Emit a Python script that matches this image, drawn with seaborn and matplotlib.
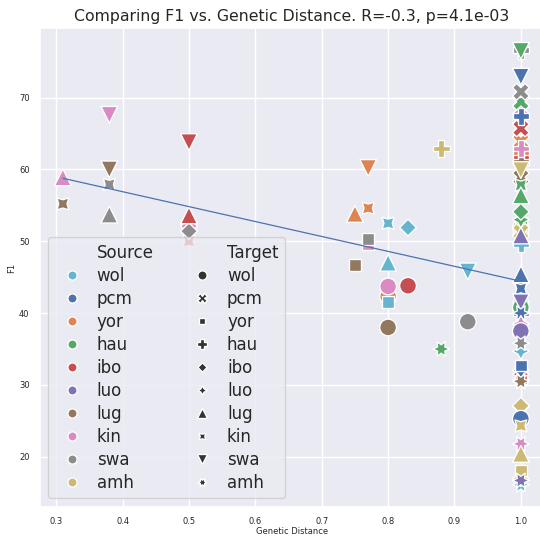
import pandas as pd
import numpy as np
import matplotlib
matplotlib.use("Agg")
import matplotlib.pyplot as plt
import seaborn as sns

sns.set_theme(style="darkgrid")

langs = ["wol", "pcm", "yor", "hau", "ibo", "luo", "lug", "kin", "swa", "amh"]
colors = ["#64B5CD", "#4C72B0", "#DD8452", "#55A868", "#C44E52",
          "#8172B3", "#937860", "#DA8BC3", "#8C8C8C", "#CCB974"]

# points listed bottom layer first (later ones are drawn on top)
source = [
    # x = 1.0, mostly hidden
    "yor", "lug", "yor", "luo", "luo", "luo", "luo", "ibo", "yor", "amh",
    "hau", "swa", "ibo", "ibo", "luo", "hau", "wol", "wol", "amh", "wol",
    "wol", "amh", "hau", "swa", "yor", "yor", "ibo", "lug", "lug", "kin",
    "ibo", "hau",
    # x = 1.0, visible
    "hau", "pcm", "swa", "pcm", "kin", "amh", "hau", "hau", "hau", "luo",
    "pcm", "pcm", "pcm", "luo", "pcm", "kin", "luo", "swa", "pcm", "pcm",
    "lug", "amh", "pcm", "amh", "kin", "amh", "amh", "luo",
    # x < 1.0
    "lug", "kin", "yor",
    "kin", "lug", "kin", "lug", "swa", "swa",
    "ibo", "ibo", "kin", "swa", "ibo",
    "yor", "lug", "yor", "yor", "swa",
    "wol", "wol", "kin", "wol", "lug",
    "wol", "ibo", "amh", "hau", "wol", "swa",
]
target = [
    "ibo", "luo", "luo", "hau", "kin", "ibo", "yor", "amh", "amh", "wol",
    "yor", "luo", "yor", "luo", "pcm", "wol", "luo", "amh", "luo", "pcm",
    "hau", "pcm", "luo", "hau", "pcm", "hau", "hau", "hau", "pcm", "pcm",
    "pcm", "pcm",
    "swa", "swa", "pcm", "hau", "hau", "swa", "kin", "lug", "ibo", "lug",
    "ibo", "kin", "lug", "swa", "amh", "luo", "wol", "amh", "luo", "yor",
    "amh", "ibo", "wol", "kin", "amh", "lug", "yor", "amh",
    "ibo", "yor", "wol",
    "lug", "kin", "swa", "swa", "kin", "lug",
    "swa", "kin", "ibo", "ibo", "lug",
    "lug", "yor", "swa", "kin", "yor",
    "kin", "lug", "wol", "yor", "wol",
    "ibo", "wol", "hau", "amh", "swa", "wol",
]
distance = [1.0] * 60 + [
    0.5, 0.77, 0.8,
    0.31, 0.31, 0.38, 0.38, 0.38, 0.38,
    0.5, 0.5, 0.5, 0.5, 0.5,
    0.75, 0.75, 0.77, 0.77, 0.77,
    0.8, 0.8, 0.8, 0.8, 0.8,
    0.83, 0.83, 0.88, 0.88, 0.92, 0.92,
]
f1 = [
    27.0, 38.5, 38.5, 40.0, 43.4, 44.3, 32.7, 30.8, 30.5, 51.9,
    52.6, 37.0, 31.0, 31.5, 41.0, 40.8, 34.7, 16.1, 17.0, 50.4,
    49.6, 51.3, 53.0, 76.6, 63.9, 62.3, 61.6, 61.0, 58.9, 68.3,
    65.7, 69.4,
    76.5, 72.9, 70.8, 67.4, 62.9, 59.9, 57.8, 56.4, 54.1, 50.8,
    44.3, 43.4, 45.4, 41.5, 40.0, 38.5, 37.5, 35.8, 32.0, 32.7,
    30.5, 27.1, 25.3, 24.3, 21.8, 20.4, 18.1, 16.7,
    52.5, 49.6, 42.3,
    58.9, 55.2, 67.6, 60.0, 57.9, 53.7,
    63.8, 50.0, 52.1, 51.4, 53.6,
    53.8, 46.7, 60.2, 54.6, 50.3,
    52.5, 47.0, 43.7, 41.5, 38.0,
    51.9, 43.8, 62.9, 35.0, 45.8, 38.8,
]

df = pd.DataFrame({"Source": source, "Target": target,
                   "Genetic Distance": distance, "F1": f1})

fig, ax = plt.subplots(figsize=(5.4, 5.36), dpi=100)
fig.subplots_adjust(left=0.074, right=1.007, top=0.947, bottom=0.055)

sns.scatterplot(data=df, x="Genetic Distance", y="F1", hue="Source", style="Target",
                hue_order=langs, style_order=langs, palette=dict(zip(langs, colors)),
                s=145, ax=ax)
sns.regplot(data=df, x="Genetic Distance", y="F1", scatter=False, ci=None,
            color="#4C72B0", line_kws={"linewidth": 0.9}, ax=ax)

ax.set_title("Comparing F1 vs. Genetic Distance. R=-0.3, p=4.1e-03", fontsize=11.3, pad=5)
ax.set_xlabel("Genetic Distance", fontsize=6, labelpad=1)
ax.set_ylabel("F1", fontsize=6, labelpad=2)
ax.tick_params(labelsize=6, pad=1.5)
ax.legend(ncol=2, loc="lower left", fontsize=12, markerscale=0.55,
          labelspacing=0.3, handletextpad=0.5, columnspacing=1.9)

plt.savefig("out.png", dpi=100)
